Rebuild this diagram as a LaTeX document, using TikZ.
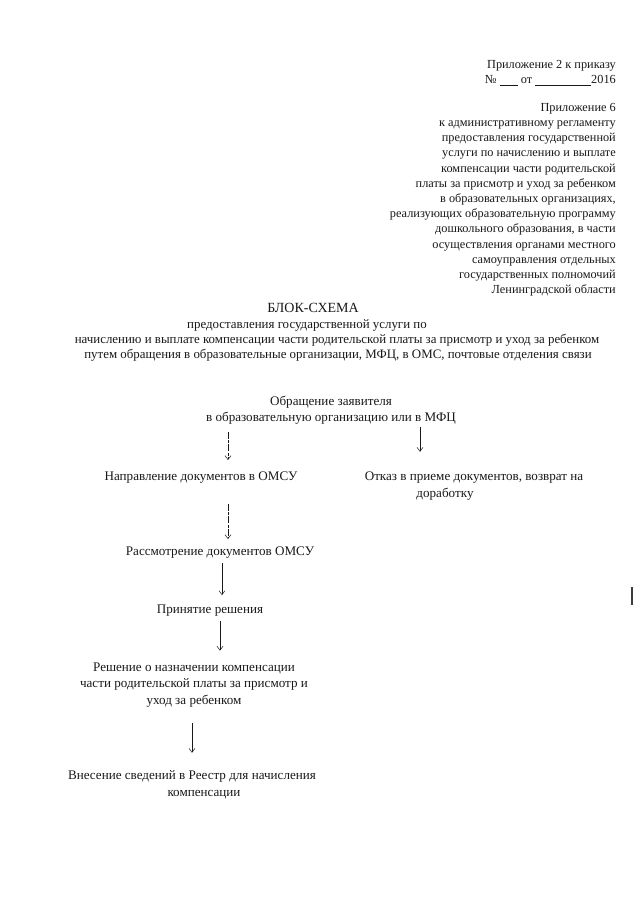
\documentclass[tikz,border=0pt]{standalone}
\usepackage{fontspec}
\setmainfont{Liberation Serif}
\usetikzlibrary{arrows.meta, positioning}
\definecolor{InkBlack}{RGB}{25, 25, 25}
\definecolor{ScanGray}{RGB}{60, 60, 60}

\tikzset{
  headtext/.style={anchor=north east, align=right, inner sep=0pt,
    text=InkBlack, font=\fontsize{12.3}{15.2}\selectfont},
  titletext/.style={inner sep=0pt, text=InkBlack,
    font=\fontsize{14}{15}\selectfont},
  subtext/.style={inner sep=0pt, text=InkBlack,
    font=\fontsize{12.9}{15}\selectfont},
  flowtext/.style={align=center, inner sep=0pt, text=InkBlack,
    font=\fontsize{13.1}{16.5}\selectfont},
  flowarrow/.style={draw=InkBlack, line width=0.5pt,
    -{Straight Barb[length=4pt, width=6pt]}},
  brokenarrow/.style={flowarrow, dash pattern=on 7pt off 1.5pt on 3pt off 1pt}
}

\begin{document}
\begin{tikzpicture}[x=1pt, y=-1pt]
    \useasboundingbox[fill=white] (0,0) rectangle (640,905);

    \node[headtext] (order) at (616,60) {
      Приложение 2 к приказу\\
      № \underline{\hspace{18pt}} от \underline{\hspace{56pt}}2016};
    \node[headtext] (annex) at (616,103) {
      Приложение 6\\
      к административному регламенту\\
      предоставления государственной\\
      услуги по начислению и выплате\\
      компенсации части родительской\\
      платы за присмотр и уход за ребенком\\
      в образовательных организациях,\\
      реализующих образовательную программу\\
      дошкольного образования, в части\\
      осуществления органами местного\\
      самоуправления отдельных\\
      государственных полномочий\\
      Ленинградской области};

    \node[titletext] (title) at (313,308) {БЛОК-СХЕМА};
    \node[subtext] (sub1) at (307,325) {предоставления государственной услуги по};
    \node[subtext] (sub2) at (337,340) {начислению и выплате компенсации части родительской платы за присмотр и уход за ребенком};
    \node[subtext] (sub3) at (338,355) {путем обращения в образовательные организации, МФЦ, в ОМС, почтовые отделения связи};

    \node[flowtext] (appl) at (331,410) {
      Обращение заявителя\\
      в образовательную организацию или в МФЦ};
    \node[flowtext] (send) at (201,478) {Направление документов в ОМСУ};
    \node[flowtext] (refuse) at (474,486) {
      Отказ в приеме документов, возврат на\\
      доработку\hspace*{58pt}};
    \node[flowtext] (review) at (220,553) {Рассмотрение документов ОМСУ};
    \node[flowtext] (decide) at (210,611) {Принятие решения};
    \node[flowtext] (grant) at (194,685) {
      Решение о назначении компенсации\\
      части родительской платы за присмотр и\\
      уход за ребенком};
    \node[flowtext] (entry) at (192,785) {
      Внесение сведений в Реестр для начисления\\
      \hspace*{24pt}компенсации};

    \coordinate (leftcol) at (228,0);
    \coordinate (rightcol) at (420,0);
    \coordinate (midcol) at (222,0);
    \coordinate (lowcol) at (220,0);
    \coordinate (endcol) at (192,0);

    \draw[brokenarrow, shorten <=7pt, shorten >=12pt] (appl.south -| leftcol) -- (send.north -| leftcol);
    \draw[flowarrow, shorten <=2pt, shorten >=20pt] (appl.south -| rightcol) -- (refuse.north -| rightcol);
    \draw[brokenarrow, shorten <=20pt, shorten >=8pt] (send.south -| leftcol) -- (review.north -| leftcol);
    \draw[flowarrow, shorten <=4pt, shorten >=10pt] (review.south -| midcol) -- (decide.north -| midcol);
    \draw[flowarrow, shorten <=4pt, shorten >=12pt] (decide.south -| lowcol) -- (grant.north -| lowcol);
    \draw[flowarrow, shorten <=16pt, shorten >=18pt] (grant.south -| endcol) -- (entry.north -| endcol);

    \draw[ScanGray, line width=1.6pt] (632,587) -- (632,605);
  \end{tikzpicture}
\end{document}
